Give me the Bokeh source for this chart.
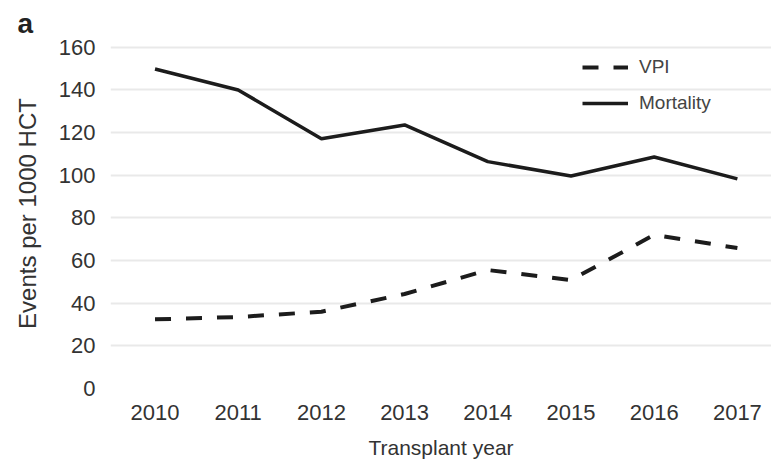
from bokeh.plotting import figure
from bokeh.models import Range1d, Legend, LegendItem, FixedTicker
from bokeh.embed import file_html
from bokeh.resources import INLINE

# Events per 1000 HCT by transplant year
years = [2010, 2011, 2012, 2013, 2014, 2015, 2016, 2017]
vpi = [32.4, 33.5, 36.0, 44.3, 55.5, 50.8, 72.0, 65.8]
mortality = [149.7, 139.9, 117.0, 123.5, 106.3, 99.6, 108.5, 98.2]
y_ticks = [0, 20, 40, 60, 80, 100, 120, 140, 160]

FONT = "Liberation Sans"
TEXT = "#333333"
INK = "#1c1c1c"

p = figure(width=771, height=464, output_backend="svg", toolbar_location=None,
           x_range=Range1d(2009.465, 2017.41), y_range=Range1d(0, 164),
           min_border_left=110, min_border_right=0, min_border_top=38,
           min_border_bottom=76)
p.outline_line_color = None
p.background_fill_color = "white"
p.border_fill_color = "white"

# panel letter as a left-aligned title, pulled out over the y axis
p.title.text = "a"
p.title.align = "left"
p.title.offset = -93
p.title.standoff = 0
p.title.text_line_height = 1.0
p.title.text_font = FONT
p.title.text_font_size = "28px"
p.title.text_font_style = "bold"
p.title.text_color = "#222222"

# grid: faint horizontal lines only
p.xgrid.grid_line_color = None
p.ygrid.grid_line_color = "#e9e9e9"
p.ygrid.grid_line_width = 2

# axes
p.xaxis.ticker = FixedTicker(ticks=years)
p.yaxis.ticker = FixedTicker(ticks=y_ticks)
for ax in (p.xaxis[0], p.yaxis[0]):
    ax.axis_line_color = None
    ax.major_tick_line_color = None
    ax.minor_tick_line_color = None
    ax.major_label_text_font = FONT
    ax.major_label_text_font_size = "22px"
    ax.major_label_text_color = TEXT
    ax.axis_label_text_font = FONT
    ax.axis_label_text_font_style = "normal"
    ax.axis_label_text_color = TEXT

p.xaxis.major_label_standoff = 10
p.yaxis.major_label_standoff = 9

p.xaxis.axis_label = "Transplant year"
p.xaxis.axis_label_text_font_size = "21px"
p.xaxis.axis_label_standoff = 13
p.yaxis.axis_label = "Events per 1000 HCT"
p.yaxis.axis_label_text_font_size = "24px"
p.yaxis.axis_label_standoff = 15

r_vpi = p.line(years, vpi, line_color=INK, line_width=4, line_dash="16 15")
r_mort = p.line(years, mortality, line_color=INK, line_width=3.5)

legend = Legend(items=[LegendItem(label="VPI", renderers=[r_vpi]),
                       LegendItem(label="Mortality", renderers=[r_mort])],
                location=(472, 274), orientation="vertical",
                glyph_width=46, glyph_height=20, label_height=20,
                label_standoff=11, spacing=14, padding=0, margin=0,
                border_line_color=None, background_fill_alpha=0,
                label_text_font=FONT, label_text_font_size="19px",
                label_text_color="#444444")
p.add_layout(legend)

open("out.html", "w").write(file_html(p, INLINE))
